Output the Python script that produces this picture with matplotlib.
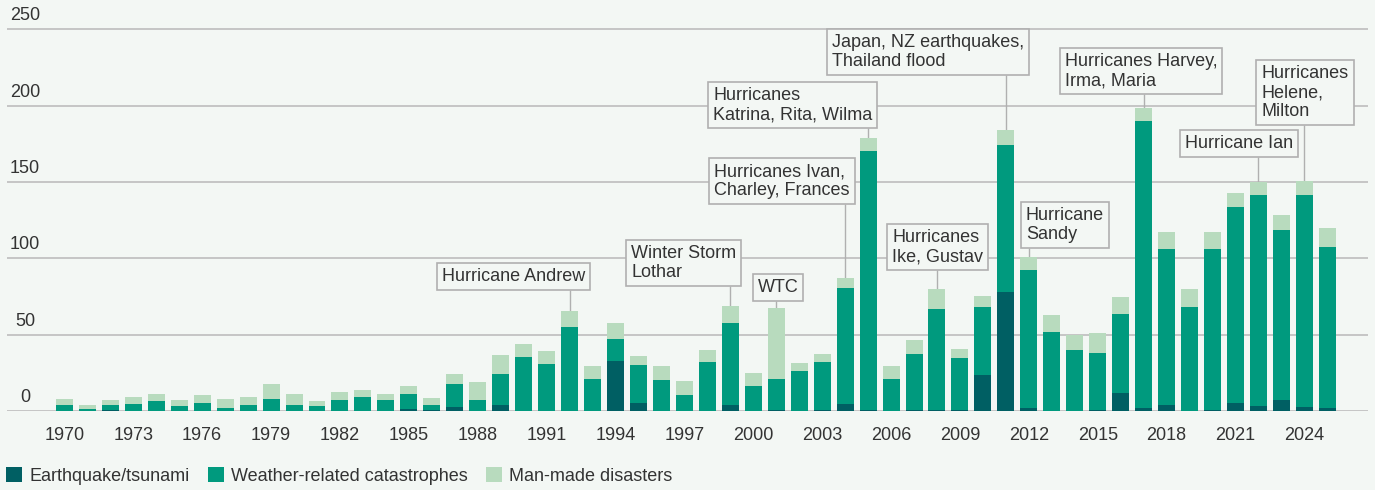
import matplotlib
matplotlib.use("Agg")
import matplotlib.pyplot as plt
import matplotlib.transforms as mtransforms
from matplotlib.patches import Patch
import numpy as np

plt.rcParams['font.family'] = ['Liberation Sans', 'DejaVu Sans']

# Insured catastrophe losses by year (stacked components)
years = list(range(1970, 2026))
earthquake = [0, 0, 0.7, 0, 0, 0, 0, 0, 0, 0,
              0, 0, 0, 0, 0, 1.3, 0.7, 2.6, 0, 3.9,
              0, 0, 0, 0, 32.9, 5.3, 0, 0, 0, 3.9,
              0, 0.7, 0, 0.7, 4.6, 0.7, 0, 0.9, 0.9, 0.9,
              23.6, 78.0, 2.0, 0.2, 0, 0.9, 11.8, 2.0, 3.9, 0.2,
              0.9, 5.2, 3.3, 7.2, 2.6, 2.0]
weather = [4.0, 1.3, 3.2, 4.6, 6.6, 3.3, 5.3, 2.0, 3.9, 7.9,
           3.9, 3.3, 7.2, 9.2, 7.2, 9.9, 3.2, 15.2, 7.2, 20.4,
           35.5, 30.9, 55.3, 21.1, 14.5, 25.0, 20.4, 10.5, 32.2, 54.0,
           16.4, 20.4, 26.3, 31.5, 76.0, 169.7, 21.0, 36.5, 66.0, 33.9,
           44.6, 96.3, 90.4, 51.6, 40.0, 37.1, 51.8, 188.0, 102.3, 68.0,
           105.3, 128.5, 138.2, 111.4, 138.9, 105.5]
man_made = [3.9, 2.6, 3.3, 4.6, 4.6, 3.9, 5.2, 5.9, 5.3, 9.9,
            7.3, 3.3, 5.3, 4.6, 4.0, 5.2, 4.7, 6.5, 11.9, 12.5,
            8.6, 8.6, 10.5, 8.5, 10.5, 5.9, 9.2, 9.2, 7.9, 11.2,
            8.6, 46.7, 5.3, 5.3, 6.6, 8.5, 8.5, 9.2, 13.1, 5.9,
            7.2, 9.8, 8.5, 11.2, 9.8, 13.1, 11.1, 8.6, 11.1, 11.8,
            11.1, 9.2, 8.4, 9.8, 9.2, 12.4]

series_names = ["Earthquake/tsunami", "Weather-related catastrophes", "Man-made disasters"]
colors = ["#005f63", "#009a7e", "#b8dbbe"]
y_ticks = [0, 50, 100, 150, 200, 250]
x_tick_years = years[::3]

# Callouts: (label, year, box left, box bottom) in data units
callouts = [
    ("Hurricane Andrew", 1992, 1986.23, 79.1),
    ("Winter Storm\nLothar", 1999, 1994.46, 81.9),
    ("WTC", 2001, 1999.97, 72.3),
    ("Hurricanes Ivan,\nCharley, Frances", 2004, 1998.08, 135.5),
    ("Hurricanes\nKatrina, Rita, Wilma", 2005, 1998.03, 185.3),
    ("Japan, NZ earthquakes,\nThailand flood", 2011, 2003.2, 220.0),
    ("Hurricanes\nIke, Gustav", 2008, 2005.84, 92.2),
    ("Hurricane\nSandy", 2012, 2011.65, 107.0),
    ("Hurricanes Harvey,\nIrma, Maria", 2017, 2013.34, 207.5),
    ("Hurricane Ian", 2022, 2018.58, 166.4),
    ("Hurricanes\nHelene,\nMilton", 2024, 2021.91, 187.4),
]

bg = "#f3f7f4"
text_color = "#333333"
grid_color = "#bdbdbd"
box_edge = "#b0b0b0"
fs = 13

W, H = 1375, 490
fig = plt.figure(figsize=(W / 100, H / 100), dpi=100, facecolor=bg)
ax = fig.add_axes([7 / W, (H - 411) / H, (1368 - 7) / W, 411 / H])
ax.set_facecolor(bg)

x = np.array(years)
eq = np.array(earthquake)
we = np.array(weather)
mm = np.array(man_made)
width = 0.74
ax.bar(x, eq, width, color=colors[0], zorder=3, linewidth=0)
ax.bar(x, we, width, bottom=eq, color=colors[1], zorder=3, linewidth=0)
ax.bar(x, mm, width, bottom=eq + we, color=colors[2], zorder=3, linewidth=0)
totals = eq + we + mm

ax.set_xlim(1967.5, 2026.77)
ax.set_ylim(0, 269.3)
ax.set_yticks(y_ticks)
ax.yaxis.grid(True, color=grid_color, linewidth=1.2, zorder=0)
ax.set_axisbelow(True)
ax.tick_params(axis='y', length=0, labelleft=False)
for s in ax.spines.values():
    s.set_visible(False)

ax.set_xticks(x_tick_years)
ax.set_xticklabels([str(y) for y in x_tick_years], fontsize=fs, color=text_color)
ax.tick_params(axis='x', length=0, pad=11.5)

# y labels sit above their gridlines
ytrans = mtransforms.blended_transform_factory(ax.transAxes, ax.transData) + \
    mtransforms.ScaledTranslation(0, 13.5 / 100, fig.dpi_scale_trans)
for v in y_ticks:
    ax.text((25 - 7) / (1368 - 7), v, str(v), transform=ytrans, ha='center', va='center',
            fontsize=fs, color=text_color)

# callout boxes with leader lines
pad_pt = 3.6
for label, yr, bx, by in callouts:
    top = totals[years.index(yr)]
    ax.plot([yr, yr], [top, by], color=box_edge, linewidth=1.0, zorder=2, solid_capstyle='butt')
    ax.annotate(label, xy=(bx, by), xycoords='data', xytext=(pad_pt, pad_pt),
                textcoords='offset points', ha='left', va='bottom', fontsize=fs,
                color=text_color, linespacing=1.15, zorder=5,
                bbox=dict(boxstyle='square,pad=0.28', facecolor=bg, edgecolor=box_edge,
                          linewidth=1.2))

handles = [Patch(facecolor=c, edgecolor='none') for c in colors]
fig.legend(handles, series_names, loc='center left', bbox_to_anchor=(6 / W, 14 / H),
           ncol=3, frameon=False, fontsize=fs, labelcolor=text_color,
           handlelength=0.89, handleheight=0.89, handletextpad=0.4,
           columnspacing=1.0, borderpad=0, borderaxespad=0)

fig.savefig("out.png", dpi=100, facecolor=bg)
